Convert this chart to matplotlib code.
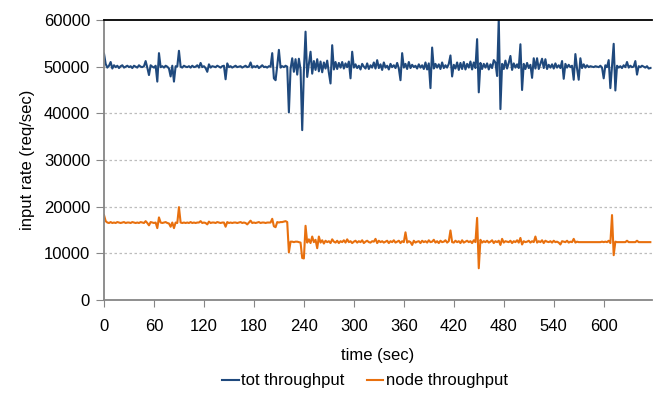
import numpy as np
import matplotlib
matplotlib.use("Agg")
import matplotlib.pyplot as plt

plt.rcParams["font.family"] = ["Liberation Sans", "DejaVu Sans"]

# -------------------------------------------------
# DATA (sampled every 2 sec)
# -------------------------------------------------
time_sec = np.arange(0, 658, 2)

tot_throughput = [
    52800, 50600, 49800, 50200, 51000, 49600, 50300, 49900, 50200, 49700,
    50100, 50300, 49800, 50000, 50200, 49900, 50100, 49700, 50200, 50000,
    49800, 50300, 50000, 49900, 50100, 51200, 49800, 48200, 50300, 50000,
    49800, 50200, 46800, 52900, 49900, 50100, 49800, 50200, 50000, 49600,
    47900, 50200, 46800, 50100, 50000, 53400, 50000, 49800, 50200, 50000,
    49900, 50100, 49800, 50200, 49900, 50000, 50300, 49800, 50800, 49900,
    50100, 49700, 48900, 50500, 49800, 50100, 50000, 49900, 50200, 50000,
    49800, 50100, 50200, 47300, 50700, 49900, 50100, 49800, 50000, 50200,
    49900, 50000, 50100, 49800, 50000, 50200, 49900, 50000, 50900, 49800,
    50100, 49900, 50200, 49700, 50000, 50300, 49900, 50000, 49800, 50100,
    50000, 52900, 47500, 47100, 50200, 53600, 49800, 50100, 49900, 50200,
    50000, 40200, 49500, 51800, 48900, 51600, 48300, 51700, 49400, 36400,
    49000, 57500, 47800, 50600, 53200, 48500, 51200, 49300, 51600, 49000,
    51100, 48800, 50900, 49600, 51300, 48700, 46400, 54600, 49400, 51000,
    49500, 50800, 49800, 51000, 49600, 50700, 49900, 51100, 47500, 53200,
    49800, 50500, 49700, 50200, 49400, 50600, 50000, 49600, 50700, 49500,
    50300, 49800, 50900, 49600, 51400, 49700, 50500, 49300, 50900, 49800,
    50200, 49400, 50600, 49900, 50300, 49700, 50800, 49600, 47100, 52900,
    49800, 50600, 49500, 51000, 49700, 50400, 49900, 50200, 49600, 50500,
    49800, 50300, 49500, 50900, 49400, 50700, 45400, 54100, 49600, 50600,
    49800, 50500, 49500, 50900, 49700, 50300, 49800, 50600, 52400, 47900,
    50400, 49600, 50900, 49300, 50800, 49500, 51000, 49400, 50600, 49800,
    51100, 49400, 50900, 49700, 55900, 44500, 50800, 49500, 50600, 49800,
    50700, 49400, 50500, 49700, 51400, 50900, 48000, 60300, 40900, 50600,
    49500, 51300, 49600, 50800, 52300, 49300, 50700, 49800, 50500, 49700,
    54800, 45000, 50600, 49500, 50800, 49700, 50400, 47600, 51800, 49600,
    51800, 49500, 50600, 51700, 49700, 51600, 49500, 50400, 49800, 50500,
    49600, 50700, 49800, 50300, 49700, 51200, 47400, 50600, 49800, 50400,
    49900, 50200, 47200, 52700, 49600, 47200, 51800, 49700, 50500, 49800,
    50300, 49900, 50100, 50000, 49900, 50100, 50000, 49900, 50200, 49800,
    47500, 50300, 49900, 51400, 45400, 50300, 54900, 44900, 50200, 49800,
    50100, 49700, 50300, 49900, 51000, 49800, 50200, 49900, 50000, 51200,
    48300, 50100, 49900, 50200, 50000, 49800, 50100, 49600, 49700,
]

node_throughput = [
    18200, 16900, 16600, 16500, 16700, 16500, 16600, 16500, 16700, 16600,
    16500, 16600, 16700, 16500, 16600, 16600, 16500, 16700, 16600, 16500,
    16600, 16500, 16700, 16600, 16500, 16900, 16500, 16000, 16700, 16600,
    16500, 16600, 15400, 17700, 16600, 16500, 16600, 16700, 16500, 16400,
    15700, 16600, 15400, 16600, 16500, 19900, 16600, 16500, 16600, 16500,
    16600, 16500, 16700, 16500, 16600, 16500, 16600, 16600, 16900, 16500,
    16600, 16500, 16200, 16800, 16500, 16600, 16600, 16500, 16700, 16600,
    16500, 16600, 16600, 15700, 16700, 16500, 16600, 16500, 16600, 16600,
    16500, 16600, 16700, 16500, 16600, 16500, 16200, 16600, 17000, 16500,
    16600, 16500, 16600, 16700, 16500, 16600, 16600, 16500, 16600, 16600,
    16600, 17400, 15800, 15600, 16700, 16600, 16700, 16700, 16800, 16900,
    16700, 10200, 12500, 12500, 12400, 12500, 12500, 12400, 12300, 9000,
    8900, 15900, 12300, 13000, 12200, 13600, 12400, 12900, 11100, 13600,
    12300, 12800, 12100, 12700, 12400, 12600, 12200, 13000, 12500, 12300,
    12700, 12200, 12600, 12400, 12800, 12300, 13000, 12400, 12600, 12200,
    12500, 12700, 12300, 12600, 12400, 12800, 12200, 12500, 12700, 12400,
    12300, 12600, 12500, 13100, 12200, 12700, 12400, 12600, 12300, 12500,
    12700, 12200, 12600, 12400, 12800, 12300, 12500, 12700, 12200, 12600,
    12400, 14500, 12300, 12600, 12400, 11800, 12700, 12300, 12500, 12600,
    12200, 12700, 12400, 12600, 12300, 12800, 12400, 12500, 12900, 12300,
    12600, 12200, 12700, 12400, 12500, 12800, 12300, 12600, 14900, 12400,
    12300, 12700, 12400, 12600, 12200, 12800, 12300, 12500, 12700, 12400,
    12600, 12200, 12800, 12400, 17600, 6800, 12900, 12300, 12600, 12400,
    12700, 12300, 12500, 12800, 12200, 12600, 12400, 12700, 11800, 13100,
    12300, 12600, 12500, 12400, 12700, 12200, 12600, 12400, 12800, 12300,
    13300, 11900, 12600, 12400, 12500, 12700, 12300, 12600, 12400, 13600,
    12300, 12600, 12400, 12800, 12200, 12700, 12500, 12400, 12600, 12300,
    12700, 12400, 12500, 12300, 11900, 12600, 12500, 12400, 12700, 12300,
    12500, 12400, 13100, 12300, 12500, 12400, 12400, 12400, 12400, 12400,
    12400, 12400, 12400, 12400, 12400, 12400, 12400, 12400, 12400, 12500,
    12400, 12500, 12400, 12700, 12200, 18200, 9600, 12500, 12400, 12400,
    12400, 12400, 12400, 12400, 12700, 12400, 12400, 12400, 12400, 12400,
    12700, 12400, 12400, 12400, 12400, 12400, 12400, 12400, 12400,
]

x_ticks = [0, 60, 120, 180, 240, 300, 360, 420, 480, 540, 600]
y_ticks = [0, 10000, 20000, 30000, 40000, 50000, 60000]

# -------------------------------------------------
# PLOT
# -------------------------------------------------
fig = plt.figure(figsize=(6.53, 3.94), dpi=100)
ax = fig.add_axes([104 / 653, 94 / 394, 548 / 653, 280 / 394])

ax.plot(time_sec, tot_throughput, color="#1F497D", lw=1.5, label="tot throughput")
ax.plot(time_sec, node_throughput, color="#E8700E", lw=1.5, label="node throughput")

ax.set_xlim(0, 658)
ax.set_ylim(0, 60000)
ax.set_xticks(x_ticks)
ax.set_yticks(y_ticks)
ax.tick_params(axis="both", labelsize=12, color="#868686")
ax.tick_params(axis="x", length=5, pad=9)
ax.tick_params(axis="y", length=6, pad=4)

for y in y_ticks[1:-1]:
    ax.axhline(y, color="#BDBDBD", lw=0.9, ls=(0, (2, 2)), zorder=0)

ax.spines["right"].set_visible(False)
ax.spines["top"].set_color("black")
ax.spines["top"].set_linewidth(1.3)
for s in ["left", "bottom"]:
    ax.spines[s].set_color("#868686")
    ax.spines[s].set_linewidth(1.3)

ax.set_xlabel("time (sec)", fontsize=12, labelpad=10)
ax.set_ylabel("input rate (req/sec)", fontsize=12, labelpad=6)

fig.legend(loc="center", bbox_to_anchor=(365 / 653, 1 - 381 / 394), ncol=2,
           frameon=False, fontsize=12, handlelength=1.0, handletextpad=0.15,
           columnspacing=1.3)

fig.savefig("out.png", dpi=100)
